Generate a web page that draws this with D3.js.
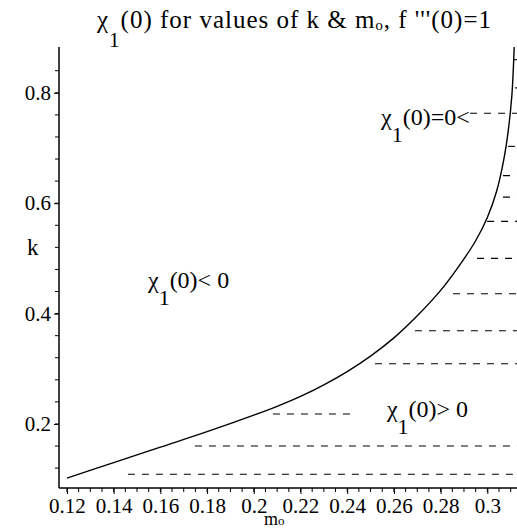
<!DOCTYPE html>
<html><head><meta charset="utf-8">
<script src="https://cdn.jsdelivr.net/npm/d3@7"></script>
<style>body{margin:0;background:#fff}svg{display:block}
svg text{font-family:"Liberation Serif","DejaVu Serif","Noto Serif",Tinos,"Times New Roman",Times,serif !important;}</style>
</head><body>
<svg id="c" width="517" height="529"></svg>
<script>
// ---- data ----
const xTicks = [0.12,0.14,0.16,0.18,0.20,0.22,0.24,0.26,0.28,0.30];
const xTickLabels = ["0.12","0.14","0.16","0.18","0.2","0.22","0.24","0.26","0.28","0.3"];
const yTicks = [0.2,0.4,0.6,0.8];
const yTickLabels = ["0.2","0.4","0.6","0.8"];
const curveM = [0.120,0.140,0.160,0.180,0.200,0.210,0.220,0.230,0.240,0.250,0.260,0.270,0.280,0.288,0.295,0.300,0.304,0.307,0.309,0.3105,0.3115];
const curveK = [0.102,0.130,0.158,0.186,0.216,0.232,0.250,0.271,0.295,0.323,0.356,0.396,0.442,0.487,0.532,0.574,0.622,0.678,0.733,0.795,0.883];
const dashK     = [0.109, 0.160, 0.218, 0.309, 0.369, 0.436, 0.500, 0.567, 0.611, 0.650, 0.703, 0.763, 0.809, 0.860];
const dashStart = [0.1461,0.1748,0.2082,0.2519,0.2690,0.2853,0.2956,0.2999,0.3067,0.3067,0.3089,0.2926,0.3119,0.3110];
const dashEnd   = [null, null, 0.2433, null, null, null, null, null, null, null, null, null, null, null];
const titleParts = ["χ","1","(0) for values of k & m\u2092, f '''(0)=1"];
const regionLabels = [
  {m:0.1547, k:0.4465, parts:["χ","1","(0)< 0"]},
  {m:0.2545, k:0.742, parts:["χ","1","(0)=0<"]},
  {m:0.2570, k:0.2127, parts:["χ","1","(0)> 0"]}
];

const svg = d3.select("#c");
const x = d3.scaleLinear().domain([0.1166,0.3127]).range([59,517]);
const y = d3.scaleLinear().domain([0.084,0.883]).range([488,47]);

// title
const t = svg.append("text").attr("x",97).attr("y",28).attr("font-size",25).attr("letter-spacing",1.0).attr("fill","#000");
t.append("tspan").text(titleParts[0]);
t.append("tspan").attr("dy",19).attr("font-size",21).text(titleParts[1]);
t.append("tspan").attr("dy",-19).text(titleParts[2]);

// axes
const xAxis = d3.axisBottom(x).tickValues(xTicks).tickFormat((d,i)=>xTickLabels[i]).tickSize(6).tickPadding(4);
const gx = svg.append("g").attr("transform",`translate(0,${y.range()[0]})`).call(xAxis);
gx.attr("font-family",null);
gx.select(".domain").attr("d",`M${x.range()[0]},0H${x.range()[1]}`).attr("stroke-width",1.5);
gx.selectAll("text").attr("font-size",21).attr("fill","#000");
const xMinor = d3.range(0.115,0.3127,0.005).filter(v=>v>=x.domain()[0]);
svg.append("g").selectAll("line").data(xMinor).join("line")
  .attr("x1",d=>x(d)).attr("x2",d=>x(d)).attr("y1",y.range()[0]).attr("y2",y.range()[0]+4)
  .attr("stroke","#000");

const yAxis = d3.axisLeft(y).tickValues(yTicks).tickFormat((d,i)=>yTickLabels[i]).tickSize(5).tickPadding(3);
const gy = svg.append("g").attr("transform",`translate(${x.range()[0]},0)`).call(yAxis);
gy.attr("font-family",null);
gy.select(".domain").attr("d",`M0,${y.range()[0]}V${y.range()[1]}`).attr("stroke-width",1.5);
gy.selectAll("text").attr("font-size",21).attr("fill","#000");
const yMinor = d3.range(0.12,0.88,0.04);
svg.append("g").selectAll("line").data(yMinor).join("line")
  .attr("x1",x.range()[0]-4).attr("x2",x.range()[0]).attr("y1",d=>y(d)).attr("y2",d=>y(d))
  .attr("stroke","#000");

// axis titles
svg.append("text").attr("x",27).attr("y",255).attr("font-size",23).text("k");
const mt = svg.append("text").attr("x",264).attr("y",525).attr("font-size",18);
mt.append("tspan").text("m");
mt.append("tspan").attr("font-size",13).text("o");

// dashed lines
svg.append("g").selectAll("line").data(dashK).join("line")
  .attr("x1",(d,i)=>x(dashStart[i])).attr("x2",(d,i)=>x(dashEnd[i]==null?x.domain()[1]:dashEnd[i]))
  .attr("y1",d=>y(d)).attr("y2",d=>y(d))
  .attr("stroke","#000").attr("stroke-width",1.1).attr("stroke-dasharray","7,7");

// curve
const pts = curveM.map((m,i)=>[m,curveK[i]]);
svg.append("path").datum(pts)
  .attr("d",d3.line().x(d=>x(d[0])).y(d=>y(d[1])).curve(d3.curveCatmullRom.alpha(0.5)))
  .attr("fill","none").attr("stroke","#000").attr("stroke-width",1.4);

// region labels
regionLabels.forEach(r=>{
  const tx = svg.append("text").attr("x",x(r.m)).attr("y",y(r.k)).attr("font-size",24).attr("fill","#000");
  tx.append("tspan").text(r.parts[0]);
  tx.append("tspan").attr("dy",17).attr("font-size",22).text(r.parts[1]);
  tx.append("tspan").attr("dy",-17).text(r.parts[2]);
});
</script>
</body></html>
